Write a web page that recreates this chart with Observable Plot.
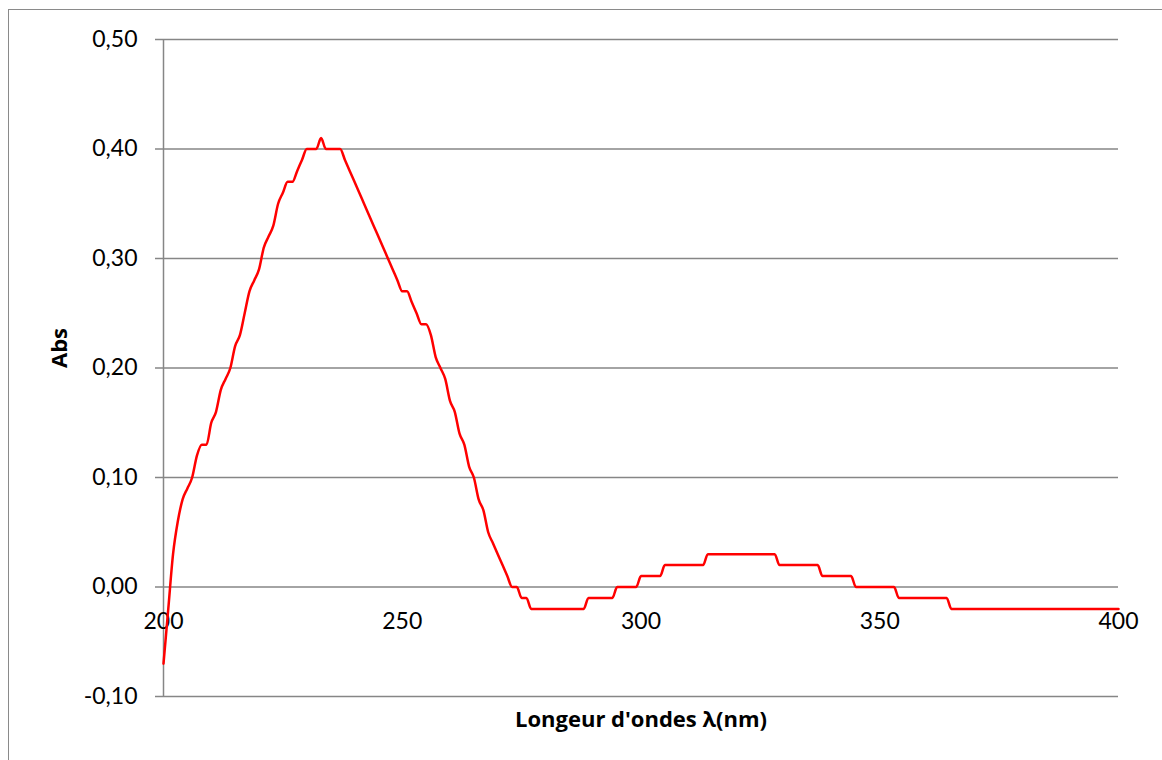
<!DOCTYPE html>
<html>
<head>
<meta charset="utf-8">
<script src="https://cdn.jsdelivr.net/npm/d3@7"></script>
<script src="https://cdn.jsdelivr.net/npm/@observablehq/plot@0.6"></script>
<style>
  html, body { margin: 0; padding: 0; background: #fff; overflow: hidden; }
  #wrap { position: relative; width: 1162px; height: 760px; }
  #chart { position: absolute; left: 0; top: 0; }
  #frame { position: absolute; left: 8px; top: 9px; width: 1200px; height: 800px;
           border-left: 1.5px solid #8a8a8a; border-top: 1.5px solid #8a8a8a; pointer-events: none; }
</style>
</head>
<body>
<div id="wrap"><div id="chart"></div><div id="frame"></div></div>
<script>
// UV absorption spectrum, absorbance read at each wavelength (nm)
const wavelength = [
  200, 201, 202, 203, 204, 205, 206, 207, 208, 209,
  210, 211, 212, 213, 214, 215, 216, 217, 218, 219,
  220, 221, 222, 223, 224, 225, 226, 227, 228, 229,
  230, 231, 232, 233, 234, 235, 236, 237, 238, 239,
  240, 241, 242, 243, 244, 245, 246, 247, 248, 249,
  250, 251, 252, 253, 254, 255, 256, 257, 258, 259,
  260, 261, 262, 263, 264, 265, 266, 267, 268, 269,
  270, 271, 272, 273, 274, 275, 276, 277,
  288, 289, 294, 295, 299, 300, 304, 305, 313, 314,
  328, 329, 337, 338, 344, 345, 353, 354, 364, 365, 400
];
const absorbance = [
  -0.07, -0.02, 0.03, 0.06, 0.08, 0.09, 0.10, 0.12, 0.13, 0.13,
  0.15, 0.16, 0.18, 0.19, 0.20, 0.22, 0.23, 0.25, 0.27, 0.28,
  0.29, 0.31, 0.32, 0.33, 0.35, 0.36, 0.37, 0.37, 0.38, 0.39,
  0.40, 0.40, 0.40, 0.41, 0.40, 0.40, 0.40, 0.40, 0.39, 0.38,
  0.37, 0.36, 0.35, 0.34, 0.33, 0.32, 0.31, 0.30, 0.29, 0.28,
  0.27, 0.27, 0.26, 0.25, 0.24, 0.24, 0.23, 0.21, 0.20, 0.19,
  0.17, 0.16, 0.14, 0.13, 0.11, 0.10, 0.08, 0.07, 0.05, 0.04,
  0.03, 0.02, 0.01, 0.00, 0.00, -0.01, -0.01, -0.02,
  -0.02, -0.01, -0.01, 0.00, 0.00, 0.01, 0.01, 0.02, 0.02, 0.03,
  0.03, 0.02, 0.02, 0.01, 0.01, 0.00, 0.00, -0.01, -0.01, -0.02, -0.02
];

const xTicks = [200, 250, 300, 350, 400];
const yTicks = [-0.1, 0, 0.1, 0.2, 0.3, 0.4, 0.5];
const xTitle = "Longeur d'ondes λ(nm)";
const yTitle = "Abs";

const spectrum = wavelength.map((w, i) => ({w, a: absorbance[i]}));
const grey = "#868686";
const fmt = v => v.toFixed(2).replace(".", ",");
const titleFont = "'Open Sans', Lato, sans-serif";

const chart = Plot.plot({
  width: 1162,
  height: 760,
  marginTop: 39,
  marginBottom: 64,
  marginLeft: 163,
  marginRight: 44,
  style: {fontFamily: "Lato, 'Open Sans', sans-serif", fontSize: "23px", color: "#000", background: "transparent"},
  x: {domain: [200, 400]},
  y: {domain: [-0.1, 0.5]},
  marks: [
    Plot.gridY(yTicks, {stroke: grey, strokeOpacity: 1, strokeWidth: 1.5}),
    Plot.ruleX([200], {stroke: grey, strokeWidth: 1.5}),
    Plot.axisY({ticks: yTicks, tickFormat: fmt, tickSize: 8, tickPadding: 18,
                stroke: grey, strokeWidth: 1.5, label: null, fontSize: 23}),
    Plot.axisX({ticks: [], label: null}),
    Plot.text(xTicks, {x: d => d, y: () => 0, text: d => String(d), dy: 35,
                       lineAnchor: "middle", fontSize: 23, fill: "#000"}),
    Plot.line(spectrum, {x: "w", y: "a", stroke: "#ff0000", strokeWidth: 2.5,
                         curve: "monotone-x"}),
    Plot.text([xTitle], {frameAnchor: "bottom", dy: 23, lineAnchor: "middle", fontFamily: titleFont,
                         text: d => d, fontWeight: "bold", fontSize: 22, fill: "#000"}),
    Plot.text([yTitle], {frameAnchor: "left", dx: -104, rotate: -90, lineAnchor: "middle", fontFamily: titleFont,
                         text: d => d, fontWeight: "bold", fontSize: 22, fill: "#000"})
  ]
});
document.getElementById("chart").append(chart);
</script>
</body>
</html>
